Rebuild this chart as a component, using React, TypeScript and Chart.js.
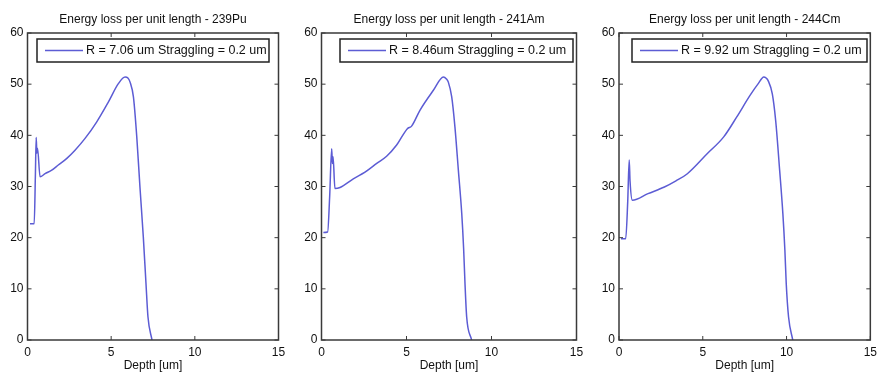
import React, { useEffect, useRef } from "react";
import { Chart, registerables } from "chart.js";

Chart.register(...registerables);

// ---- data ----
const depthPu = [0.15, 0.4, 0.47, 0.52, 0.56, 0.6, 0.75, 1.05, 1.45, 1.84, 2.35, 2.84, 3.44, 4.13, 4.83, 5.43, 5.83, 6.0, 6.13, 6.33, 6.53, 6.72, 6.92, 7.08, 7.2, 7.44];
const lossPu = [22.7, 22.7, 32, 39.6, 36.5, 37.5, 31.9, 32.5, 33.2, 34.2, 35.5, 37.1, 39.4, 42.6, 46.5, 50.1, 51.4, 51.2, 50.4, 47.5, 39.7, 29.9, 20.2, 11.1, 4.5, 0];

const depthAm = [0.11, 0.36, 0.48, 0.6, 0.64, 0.68, 0.79, 1.09, 1.87, 2.56, 3.25, 3.83, 4.42, 5.05, 5.3, 5.79, 6.58, 7.17, 7.35, 7.46, 7.66, 7.85, 8.05, 8.25, 8.36, 8.44, 8.54, 8.83];
const lossAm = [21.0, 21.1, 28, 37.4, 34.5, 35.8, 29.6, 29.8, 31.5, 32.8, 34.5, 35.9, 38.1, 41.3, 41.8, 44.9, 48.8, 51.4, 51.0, 50.4, 47.5, 41.6, 33.2, 24.7, 17.9, 11.1, 4.5, 0];

const depthCm = [0.12, 0.4, 0.52, 0.61, 0.66, 0.8, 1.73, 2.71, 3.4, 4.08, 5.26, 6.25, 7.03, 7.82, 8.31, 8.64, 8.78, 8.9, 9.15, 9.35, 9.59, 9.78, 9.9, 9.98, 10.12, 10.37];
const lossCm = [19.8, 19.8, 27, 35.2, 31, 27.3, 28.6, 29.9, 31.1, 32.5, 36.4, 39.7, 43.6, 47.8, 50.1, 51.4, 51.2, 50.7, 48.1, 42.9, 33.1, 24.7, 17.6, 11.1, 4.5, 0];

const titles = [
  "Energy loss per unit length - 239Pu",
  "Energy loss per unit length - 241Am",
  "Energy loss per unit length - 244Cm",
];
const legendLabels = [
  "R = 7.06 um Straggling = 0.2 um",
  "R = 8.46um Straggling = 0.2 um",
  "R = 9.92 um Straggling = 0.2 um",
];
const depths = [depthPu, depthAm, depthCm];
const losses = [lossPu, lossAm, lossCm];

const xTicks = [0, 5, 10, 15];
const yTicks = [0, 10, 20, 30, 40, 50, 60];
const xLabel = "Depth [um]";

// ---- layout / style ----
const W = 882;
const H = 375;
const FONT = "'Liberation Sans', Arial, Helvetica, sans-serif";
const LINE_COLOR = "#5c5cd4";
const AXIS_COLOR = "#3a3a3a";
const TEXT_COLOR = "#111111";
const Y_AXIS_W = 27;

const panelLayout = [
  { plotLeft: 27.5, plotRight: 278.5, legendLeft: 37, legendRight: 269 },
  { plotLeft: 321.5, plotRight: 576.5, legendLeft: 340, legendRight: 573 },
  { plotLeft: 619, plotRight: 873.5, legendLeft: 632, legendRight: 867 },
];

function makeFramePlugin(idx: number) {
  return {
    id: "matlabFrame" + idx,
    afterDraw(chart: any) {
      const { ctx, chartArea: a, scales } = chart;
      const lay = panelLayout[idx];
      ctx.save();
      // box
      ctx.strokeStyle = AXIS_COLOR;
      ctx.lineWidth = 1.5;
      ctx.strokeRect(a.left, a.top, a.right - a.left, a.bottom - a.top);
      // inward ticks
      ctx.lineWidth = 1;
      const tl = 4;
      ctx.beginPath();
      scales.x.ticks.forEach((t: any) => {
        const x = scales.x.getPixelForValue(t.value);
        ctx.moveTo(x, a.bottom);
        ctx.lineTo(x, a.bottom - tl);
        ctx.moveTo(x, a.top);
        ctx.lineTo(x, a.top + tl);
      });
      scales.y.ticks.forEach((t: any) => {
        const y = scales.y.getPixelForValue(t.value);
        ctx.moveTo(a.left, y);
        ctx.lineTo(a.left + tl, y);
        ctx.moveTo(a.right, y);
        ctx.lineTo(a.right - tl, y);
      });
      ctx.stroke();
      // legend
      const lt = 39;
      const lb = 62;
      ctx.fillStyle = "#ffffff";
      ctx.fillRect(lay.legendLeft, lt, lay.legendRight - lay.legendLeft, lb - lt);
      ctx.strokeStyle = "#222222";
      ctx.lineWidth = 1.5;
      ctx.strokeRect(lay.legendLeft, lt, lay.legendRight - lay.legendLeft, lb - lt);
      const cy = (lt + lb) / 2;
      ctx.strokeStyle = LINE_COLOR;
      ctx.lineWidth = 1.5;
      ctx.beginPath();
      ctx.moveTo(lay.legendLeft + 8, cy);
      ctx.lineTo(lay.legendLeft + 46, cy);
      ctx.stroke();
      ctx.fillStyle = TEXT_COLOR;
      ctx.font = "12.5px " + FONT;
      ctx.textBaseline = "middle";
      ctx.textAlign = "left";
      ctx.fillText(legendLabels[idx], lay.legendLeft + 49, cy + 0.5);
      ctx.restore();
    },
  };
}

function Panel({ idx }: { idx: number }) {
  const ref = useRef<HTMLCanvasElement | null>(null);
  useEffect(() => {
    if (!ref.current) return;
    const lay = panelLayout[idx];
    const pts = depths[idx].map((d, i) => ({ x: d, y: losses[idx][i] }));
    const chart = new Chart(ref.current, {
      type: "line",
      data: {
        datasets: [
          {
            label: legendLabels[idx],
            data: pts,
            borderColor: LINE_COLOR,
            backgroundColor: LINE_COLOR,
            borderWidth: 1.5,
            pointRadius: 0,
            fill: false,
            cubicInterpolationMode: "monotone",
          },
        ],
      },
      options: {
        responsive: false,
        animation: false,
        devicePixelRatio: 1,
        events: [],
        layout: {
          padding: {
            left: lay.plotLeft - Y_AXIS_W,
            right: W - lay.plotRight,
            top: 0,
            bottom: 0,
          },
        },
        plugins: {
          legend: { display: false },
          tooltip: { enabled: false },
          title: {
            display: true,
            text: titles[idx],
            fullSize: false,
            color: TEXT_COLOR,
            font: { family: FONT, size: 12, weight: "normal" },
            padding: { top: 12.8, bottom: 5.8 },
          },
        },
        scales: {
          x: {
            type: "linear",
            min: 0,
            max: 15,
            afterBuildTicks: (s: any) => {
              s.ticks = xTicks.map((v) => ({ value: v }));
            },
            afterFit: (s: any) => {
              s.height = 35;
            },
            grid: { display: false, drawTicks: false },
            border: { display: false },
            ticks: {
              padding: 5,
              color: TEXT_COLOR,
              font: { family: FONT, size: 12 },
              maxRotation: 0,
              autoSkip: false,
            },
            title: {
              display: true,
              text: xLabel,
              color: TEXT_COLOR,
              font: { family: FONT, size: 12 },
              padding: { top: 0, bottom: 1.8 },
            },
          },
          y: {
            type: "linear",
            min: 0,
            max: 60,
            afterBuildTicks: (s: any) => {
              s.ticks = yTicks.map((v) => ({ value: v }));
            },
            afterFit: (s: any) => {
              s.width = Y_AXIS_W;
            },
            grid: { display: false, drawTicks: false },
            border: { display: false },
            ticks: {
              padding: 4,
              color: TEXT_COLOR,
              font: { family: FONT, size: 12 },
              autoSkip: false,
            },
          },
        },
      },
      plugins: [makeFramePlugin(idx)],
    } as any);
    return () => chart.destroy();
  }, [idx]);
  return (
    <canvas
      ref={ref}
      width={W}
      height={H}
      style={{ position: "absolute", left: 0, top: 0, width: W, height: H }}
    />
  );
}

export default function App() {
  return (
    <div
      style={{
        position: "absolute",
        left: 0,
        top: 0,
        width: W,
        height: H,
        background: "#ffffff",
      }}
    >
      <Panel idx={0} />
      <Panel idx={1} />
      <Panel idx={2} />
    </div>
  );
}
